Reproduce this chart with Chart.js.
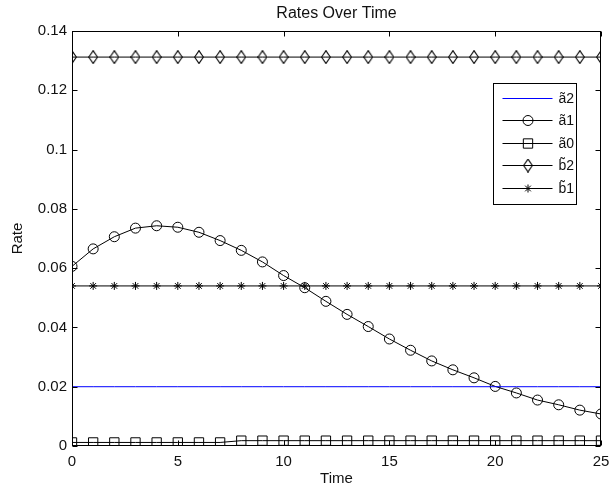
<!DOCTYPE html>
<html>
<head>
<meta charset="utf-8">
<script src="https://cdn.jsdelivr.net/npm/chart.js@4.4.1/dist/chart.umd.min.js"></script>
<style>
  html, body { margin: 0; padding: 0; background: #fff; }
  #wrap { width: 610px; height: 492px; }
</style>
</head>
<body>
<div id="wrap"><canvas id="c" width="610" height="492"></canvas></div>
<script>
// Time steps along the x axis
const timePoints = [0, 1, 2, 3, 4, 5, 6, 7, 8, 9, 10, 11, 12, 13, 14, 15, 16, 17, 18, 19, 20, 21, 22, 23, 24, 25];

// Rate series
const a2Values = [0.02, 0.02, 0.02, 0.02, 0.02, 0.02, 0.02, 0.02, 0.02, 0.02, 0.02, 0.02, 0.02,
                  0.02, 0.02, 0.02, 0.02, 0.02, 0.02, 0.02, 0.02, 0.02, 0.02, 0.02, 0.02, 0.02];
const a1Values = [0.0606, 0.0665, 0.0706, 0.0735, 0.0743, 0.0738, 0.0721, 0.0693, 0.0660, 0.0621,
                  0.0575, 0.0534, 0.0488, 0.0444, 0.0403, 0.0361, 0.0323, 0.0287, 0.0257, 0.0230,
                  0.0201, 0.0179, 0.0155, 0.0139, 0.0121, 0.0108];
const a0Values = [0.0012, 0.0012, 0.0012, 0.0012, 0.0012, 0.0012, 0.0012, 0.0012, 0.0018, 0.0018,
                  0.0018, 0.0018, 0.0018, 0.0018, 0.0018, 0.0018, 0.0018, 0.0018, 0.0018, 0.0018,
                  0.0018, 0.0018, 0.0018, 0.0018, 0.0018, 0.0018];
const b2Values = [0.1312, 0.1312, 0.1312, 0.1312, 0.1312, 0.1312, 0.1312, 0.1312, 0.1312, 0.1312,
                  0.1312, 0.1312, 0.1312, 0.1312, 0.1312, 0.1312, 0.1312, 0.1312, 0.1312, 0.1312,
                  0.1312, 0.1312, 0.1312, 0.1312, 0.1312, 0.1312];
const b1Values = [0.054, 0.054, 0.054, 0.054, 0.054, 0.054, 0.054, 0.054, 0.054, 0.054, 0.054, 0.054, 0.054,
                  0.054, 0.054, 0.054, 0.054, 0.054, 0.054, 0.054, 0.054, 0.054, 0.054, 0.054, 0.054, 0.054];

const seriesLabels = ['a\u03032', 'a\u03031', 'a\u03030', 'b\u03032', 'b\u03031'];

// Axis ticks
const xTicks = [0, 5, 10, 15, 20, 25];
const xTickLabels = ['0', '5', '10', '15', '20', '25'];
const yTicks = [0, 0.02, 0.04, 0.06, 0.08, 0.1, 0.12, 0.14];
const yTickLabels = ['0', '0.02', '0.04', '0.06', '0.08', '0.1', '0.12', '0.14'];

const FONT = '"Liberation Sans", Arial, Helvetica, sans-serif';
Chart.defaults.font.family = FONT;
Chart.defaults.font.size = 15;
Chart.defaults.color = '#111';

// Tall, narrow open diamond marker
function diamondMarker(w, h) {
  const c = document.createElement('canvas');
  c.width = w + 2; c.height = h + 2;
  const g = c.getContext('2d');
  g.strokeStyle = '#000';
  g.lineWidth = 1.1;
  g.beginPath();
  g.moveTo(c.width / 2, 0.6);
  g.lineTo(c.width - 0.6, c.height / 2);
  g.lineTo(c.width / 2, c.height - 0.6);
  g.lineTo(0.6, c.height / 2);
  g.closePath();
  g.stroke();
  return c;
}
const diamond = diamondMarker(8, 12);

function pairs(ys) { return timePoints.map((t, i) => ({ x: t, y: ys[i] })); }

const common = {
  borderWidth: 1,
  pointBorderWidth: 1,
  pointBackgroundColor: 'rgba(0,0,0,0)',
  pointBorderColor: '#000',
  tension: 0,
  fill: false
};

const datasets = [
  Object.assign({}, common, { label: seriesLabels[0], data: pairs(a2Values), borderColor: '#0000ff', pointRadius: 0, pointStyle: false }),
  Object.assign({}, common, { label: seriesLabels[1], data: pairs(a1Values), borderColor: '#000', pointStyle: 'circle', pointRadius: 5 }),
  Object.assign({}, common, { label: seriesLabels[2], data: pairs(a0Values), borderColor: '#000', pointStyle: 'rect', pointRadius: 6.6 }),
  Object.assign({}, common, { label: seriesLabels[3], data: pairs(b2Values), borderColor: '#000', pointStyle: diamond, pointRadius: 5 }),
  Object.assign({}, common, { label: seriesLabels[4], data: pairs(b1Values), borderColor: '#000', pointStyle: 'star', pointRadius: 4 })
];

// Box frame with inward tick marks on all four sides
const framePlugin = {
  id: 'frame',
  afterDatasetsDraw(chart) {
    const { ctx, chartArea: a, scales } = chart;
    const L = Math.round(a.left) + 0.5, R = Math.round(a.right) - 0.5;
    const T = Math.round(a.top) + 0.5, B = Math.round(a.bottom) - 0.5;
    const len = 5;
    ctx.save();
    ctx.strokeStyle = '#000';
    ctx.lineWidth = 1;
    ctx.strokeRect(L, T, R - L, B - T);
    ctx.beginPath();
    xTicks.forEach(v => {
      const px = Math.round(scales.x.getPixelForValue(v)) + 0.5;
      ctx.moveTo(px, B); ctx.lineTo(px, B - len);
      ctx.moveTo(px, T); ctx.lineTo(px, T + len);
    });
    yTicks.forEach(v => {
      const py = Math.round(scales.y.getPixelForValue(v)) + 0.5;
      ctx.moveTo(L, py); ctx.lineTo(L + len, py);
      ctx.moveTo(R, py); ctx.lineTo(R - len, py);
    });
    ctx.stroke();
    ctx.restore();
  }
};

// Boxed legend in the upper right of the plot: line sample, marker, label
const legendPlugin = {
  id: 'boxLegend',
  afterDraw(chart) {
    const { ctx, chartArea: a } = chart;
    const boxW = 83, boxH = 121;
    const left = Math.round(a.right) - 25 - boxW + 0.5;
    const top = Math.round(a.top) + 52 + 0.5;
    ctx.save();
    ctx.fillStyle = '#fff';
    ctx.fillRect(left, top, boxW, boxH);
    ctx.strokeStyle = '#000';
    ctx.lineWidth = 1;
    ctx.strokeRect(left, top, boxW, boxH);
    const rowGap = 22.65;
    chart.data.datasets.forEach((ds, i) => {
      const y = Math.round(top + 14 + i * rowGap) + 0.5;
      const x0 = left + 9, x1 = left + 59;
      ctx.strokeStyle = ds.borderColor;
      ctx.lineWidth = 1;
      ctx.beginPath();
      ctx.moveTo(x0, y); ctx.lineTo(x1, y);
      ctx.stroke();
      if (ds.pointStyle) {
        ctx.strokeStyle = '#000';
        ctx.fillStyle = 'rgba(0,0,0,0)';
        Chart.helpers.drawPoint(ctx, { pointStyle: ds.pointStyle, radius: ds.pointRadius, rotation: 0, borderWidth: 1 }, Math.round((x0 + x1) / 2), y);
      }
      ctx.fillStyle = '#111';
      ctx.font = '14px ' + FONT;
      ctx.textBaseline = 'middle';
      ctx.textAlign = 'left';
      ctx.fillText(ds.label, left + 65, y + 1);
    });
    ctx.restore();
  }
};

new Chart(document.getElementById('c'), {
  type: 'line',
  data: { datasets },
  plugins: [framePlugin, legendPlugin],
  options: {
    responsive: false,
    devicePixelRatio: 1,
    animation: false,
    events: [],
    layout: { padding: { left: 0, right: 9, top: 0, bottom: 0 } },
    plugins: {
      legend: { display: false },
      tooltip: { enabled: false },
      title: {
        display: true,
        fullSize: false,
        text: 'Rates Over Time',
        color: '#111',
        font: { size: 16, weight: 'normal', lineHeight: 1.125 },
        padding: { top: 5, bottom: 8 }
      }
    },
    scales: {
      x: {
        type: 'linear',
        min: 0,
        max: 25,
        afterBuildTicks(scale) { scale.ticks = xTicks.map(v => ({ value: v })); },
        afterFit(scale) { scale.height = 46; scale.paddingLeft = 0; scale.paddingRight = 0; },
        ticks: {
          padding: 7,
          maxRotation: 0,
          callback: (v) => xTickLabels[xTicks.indexOf(v)]
        },
        grid: { display: false, drawTicks: false },
        border: { display: false },
        title: { display: true, text: 'Time', color: '#111', font: { size: 15 }, padding: { top: 0, bottom: 4 } }
      },
      y: {
        type: 'linear',
        min: 0,
        max: 0.14,
        afterBuildTicks(scale) { scale.ticks = yTicks.map(v => ({ value: v })); },
        afterFit(scale) { scale.width = 72; scale.paddingTop = 0; scale.paddingBottom = 0; },
        ticks: {
          padding: 5,
          callback: (v) => yTickLabels[yTicks.indexOf(v)]
        },
        grid: { display: false, drawTicks: false },
        border: { display: false },
        title: { display: true, text: 'Rate', color: '#111', font: { size: 15 }, padding: { top: 9, bottom: 0 } }
      }
    }
  }
});
</script>
</body>
</html>
